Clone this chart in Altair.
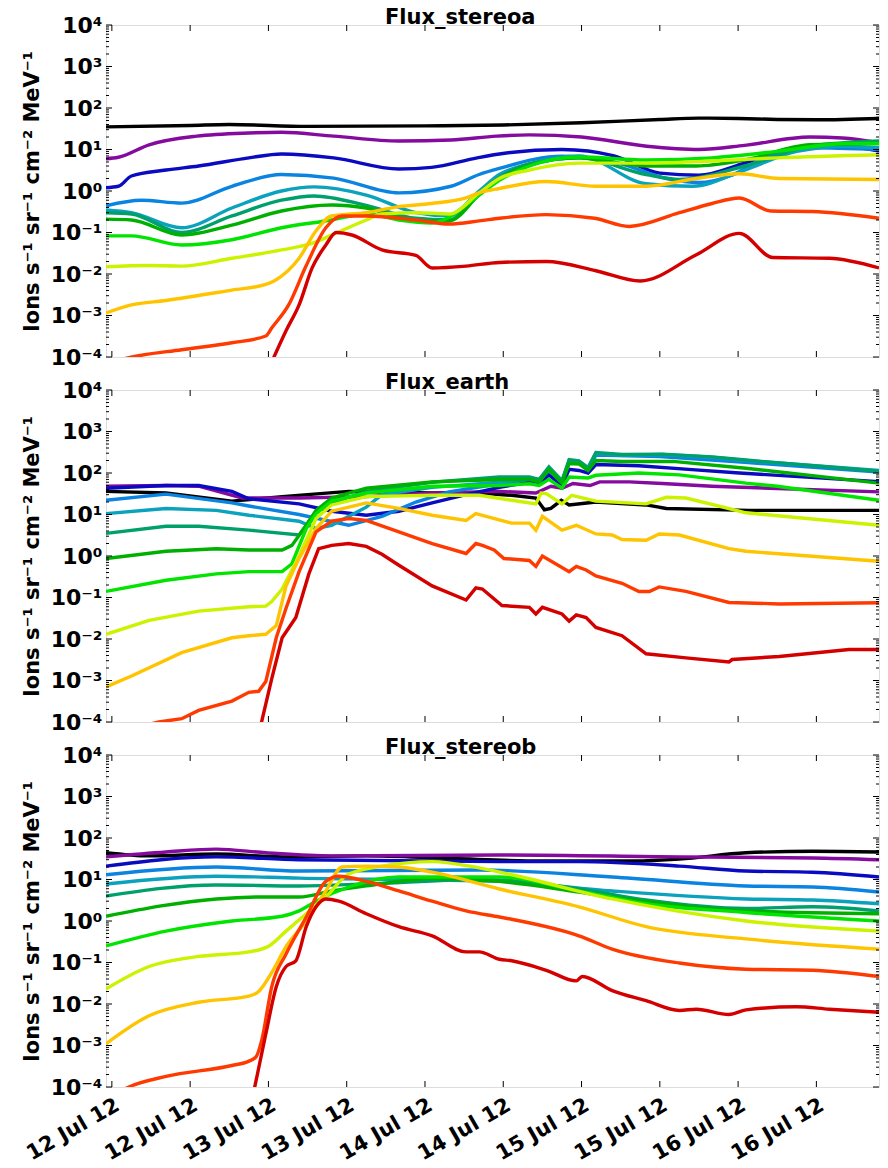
import altair as alt
import pandas as pd

# Time axis: hours after 2012-07-12 00:00
BASE = pd.Timestamp("2012-07-12T00:00:00")

COLORS = ["#000000", "#850a9e", "#0a0ac0", "#0a84e0", "#0aa2bc", "#00a06c",
          "#00b000", "#00e400", "#ccf200", "#ffc400", "#ff3a00", "#d40000"]
CHANNELS = [f"ch{i}" for i in range(len(COLORS))]

# (hour, flux) pairs per energy channel
stereoa = [
    [(-0.9, 35), (12, 38), (18, 40), (30, 36), (48, 37), (60, 39), (72, 44), (84, 53), (90, 57),
     (96, 56), (102, 53), (108, 52), (117.6, 56)],
    [(-0.9, 6), (1, 6.5), (5.7, 13), (13, 21), (21, 25), (26, 26), (34, 21), (44, 16), (52, 17),
     (59, 21), (64, 22.5), (72, 20), (82, 12), (90, 10), (97, 12.6), (107, 20), (112, 19), (117.6, 14.5)],
    [(-0.9, 1.2), (1, 1.3), (3, 2.3), (8.3, 3.2), (13.3, 4), (21, 6.3), (26, 7.8), (34, 6.3), (44, 3.4),
     (49, 3.7), (56, 6.3), (59.4, 7.8), (69, 10), (77, 7), (84, 2.7), (90, 2.4), (97, 4.7), (105, 11),
     (113, 11.5), (117.6, 9.1)],
    [(-0.9, 0.44), (4.5, 0.6), (10.7, 0.51), (18.4, 1.3), (26, 2.5), (34, 2.05), (44, 0.9), (52, 1.3),
     (56.3, 2.5), (59.4, 3.5), (69, 6.9), (78, 4.5), (85, 2.0), (90, 1.6), (95, 2.4), (100, 6.3),
     (107, 11), (117.6, 10)],
    [(-0.9, 0.35), (3, 0.3), (10.7, 0.13), (18.4, 0.39), (26, 1.0), (31, 1.26), (39, 0.8), (46.6, 0.3),
     (51.7, 0.25), (56.3, 1.0), (59.4, 2.5), (64, 4.5), (71.6, 7), (81.9, 1.5), (89, 1.3), (97, 3.2),
     (105, 9), (112.6, 12), (117.6, 11)],
    [(-0.9, 0.30), (3, 0.28), (10.7, 0.1), (18.4, 0.25), (26, 0.6), (31, 0.76), (39, 0.45), (46.6, 0.22),
     (51.7, 0.2), (56.3, 0.9), (59.4, 2.1), (64, 4.5), (71.6, 6.3), (81.9, 2.5), (87, 1.9), (97, 4),
     (107, 12), (117.6, 16)],
    [(-0.9, 0.21), (3, 0.2), (10.7, 0.087), (18.4, 0.15), (26, 0.33), (33.7, 0.46), (39, 0.39),
     (46.6, 0.19), (51.7, 0.19), (56.3, 0.8), (59.4, 1.9), (64, 4.2), (71.6, 6.3), (81.9, 4), (89.6, 4),
     (97, 5.6), (107, 13), (117.6, 14)],
    [(-0.9, 0.083), (3, 0.083), (10.7, 0.05), (18.4, 0.067), (26, 0.13), (33.7, 0.2), (39, 0.28),
     (44, 0.2), (49, 0.17), (56.3, 0.8), (59.4, 1.8), (64, 4), (71.6, 6.6), (81.9, 5.6), (92, 6.3),
     (102, 9), (112.6, 14), (117.6, 14)],
    [(-0.9, 0.015), (5.7, 0.016), (10.7, 0.0155), (18.4, 0.024), (26, 0.038), (31, 0.057), (33.7, 0.087),
     (39, 0.2), (41.4, 0.28), (46.6, 0.3), (51.7, 0.28), (56.3, 0.9), (59.4, 2.0), (64, 3.2), (71.6, 4.7),
     (81.9, 4.7), (92, 5.3), (102, 6.3), (117.6, 7.5)],
    [(-0.9, 0.00115), (3, 0.0018), (8.3, 0.0023), (18.4, 0.0041), (23.6, 0.0056), (25, 0.007),
     (28.7, 0.024), (31.3, 0.11), (33.7, 0.25), (39, 0.3), (44, 0.42), (49, 0.5), (54.3, 0.68),
     (56.3, 0.9), (59.4, 1.15), (66.6, 1.7), (74.2, 1.3), (81.9, 1.3), (89.6, 2.0), (96.2, 2.6),
     (102.3, 2.0), (117.6, 1.9)],
    [(-0.9, 7e-5), (3.1, 1e-4), (10.7, 1.5e-4), (18.4, 2.2e-4), (23.6, 3.2e-4), (24.5, 5e-4),
     (27.1, 1.8e-3), (29.8, 0.016), (32.8, 0.13), (35.3, 0.25), (39, 0.25), (46.6, 0.2), (51.7, 0.16),
     (56.3, 0.19), (59.4, 0.22), (66.6, 0.27), (74, 0.22), (79.3, 0.14), (87, 0.3), (92, 0.5),
     (96.2, 0.68), (101, 0.33), (107.4, 0.32), (117.6, 0.22)],
    [(24.0, 5e-5), (26.7, 4.3e-4), (28.7, 1.8e-3), (30.7, 0.014), (32.8, 0.05), (34.4, 0.1),
     (36.8, 0.087), (41.4, 0.038), (46.6, 0.028), (49.1, 0.014), (54.3, 0.0155), (59.4, 0.019),
     (66.6, 0.02), (74.2, 0.012), (81, 0.0068), (89.6, 0.029), (96.2, 0.095), (101.3, 0.025),
     (110, 0.024), (117.6, 0.014)],
]

earth = [
    [(-0.9, 36), (8.3, 33), (18.4, 21), (26.1, 27), (36.3, 36), (49.1, 33), (56.3, 33), (61.3, 29),
     (65, 25), (66.3, 13), (67.3, 14), (68.9, 22), (70.1, 17), (74.2, 20), (81.9, 17), (85, 14),
     (97.7, 12.6), (117.6, 12.6)],
    [(-0.9, 48), (8.3, 50), (13.3, 48), (20, 25), (28.7, 25), (39, 27), (49.1, 33), (59.4, 36), (65, 33),
     (67.3, 48), (69, 43), (70.7, 56), (73.3, 50), (74.8, 61), (79.3, 61), (84.4, 56), (92, 48),
     (117.6, 35)],
    [(-0.9, 43), (8.3, 50), (13.3, 50), (18.4, 36), (21, 24), (28.7, 18), (33.7, 12), (39, 9.6), (44, 12),
     (49.1, 19), (54.3, 30), (59.4, 45), (64, 60), (65.5, 55), (67, 90), (69, 50), (70.1, 122),
     (71.6, 115), (73, 100), (74.2, 160), (80.8, 150), (88.4, 122), (96.2, 100), (117.6, 62)],
    [(-0.9, 22), (8.3, 31), (18.4, 19), (21, 16), (28.7, 10), (36.3, 5.5), (41.4, 9), (46.6, 20),
     (51.7, 35), (59.4, 55), (64, 70), (65.5, 62), (67, 120), (69, 58), (70.1, 190), (71.6, 180),
     (73, 120), (74.2, 270), (84, 250), (97, 180), (117.6, 105)],
    [(-0.9, 10.5), (8.3, 14), (16, 12.6), (21, 9.6), (28.7, 6.9), (31.3, 4.6), (33.7, 5.5), (39, 15),
     (41.4, 30), (49.1, 45), (59.4, 60), (64, 75), (65.5, 68), (67, 130), (69, 62), (70.1, 200),
     (71.6, 190), (73, 130), (74.2, 300), (78.2, 270), (84.4, 280), (92, 240), (97.2, 200), (117.6, 115)],
    [(-0.9, 3.5), (8.3, 5.2), (13.3, 5.2), (21, 4.2), (28.7, 3.2), (29.8, 5.5), (31.3, 12), (33.7, 19),
     (39, 36), (49.1, 60), (59.4, 80), (64, 80), (65.5, 70), (67, 140), (69, 65), (70.1, 210),
     (71.6, 195), (73, 135), (74.2, 310), (78.2, 280), (84.4, 285), (92, 245), (97.2, 205), (117.6, 110)],
    [(-0.9, 0.87), (8.3, 1.3), (16, 1.5), (21, 1.4), (26.1, 1.4), (27.6, 1.8), (29.8, 5.5), (31.3, 12.6),
     (33.7, 25), (39, 43), (49.1, 61), (59.4, 70), (64, 70), (65.5, 62), (67, 120), (69, 58),
     (70.1, 170), (71.6, 165), (73, 115), (74.2, 200), (78.2, 190), (86, 190), (97.2, 130), (117.6, 57)],
    [(-0.9, 0.14), (8.3, 0.26), (16, 0.37), (21, 0.42), (26.1, 0.42), (27.6, 0.65), (29.8, 4.6),
     (31.3, 10.5), (33.7, 21), (39, 33), (49.1, 48), (59.4, 50), (64, 55), (65.5, 50), (67, 70), (69, 43),
     (70.1, 80), (73, 76), (74.2, 88), (80.8, 100), (87, 90), (97.2, 57), (102, 48), (117.6, 22)],
    [(-0.9, 0.013), (5.7, 0.028), (13.3, 0.047), (21, 0.06), (23.6, 0.062), (24.5, 0.08), (26.1, 0.16),
     (28.7, 1.0), (31.3, 8), (33.7, 17), (39, 27), (49.1, 29), (56.3, 29), (61.3, 22), (65, 18),
     (65.8, 33), (66.6, 32), (69, 18), (70.5, 29), (74.2, 21), (81.9, 18), (85, 26), (88, 25),
     (97.2, 11), (117.6, 5.5)],
    [(-0.9, 7e-4), (3.1, 1.3e-3), (10.7, 4.7e-3), (18.4, 0.0107), (21, 0.012), (23.6, 0.013),
     (25.2, 0.021), (26.7, 0.19), (28.7, 0.88), (31.3, 4.6), (33.7, 12), (39, 19), (44, 14), (49.1, 9.6),
     (54.3, 7.2), (55.8, 10.5), (56.8, 9.5), (61.3, 6.2), (64, 6.2), (65, 4.2), (66, 9), (69, 4.2),
     (71.2, 5.5), (74.2, 3.4), (76.7, 3.2), (78.2, 2.5), (81.9, 2.4), (83.9, 3.4), (87, 3.2),
     (94.6, 1.5), (97.2, 1.3), (117.6, 0.75)],
    [(-0.9, 5e-5), (7.2, 1e-4), (10.7, 1.2e-4), (13.3, 1.9e-4), (18.4, 3.2e-4), (21, 5.2e-4),
     (22.5, 5.5e-4), (23.6, 9.5e-4), (25.2, 0.0107), (26.7, 0.055), (28.7, 0.42), (31.3, 3.8),
     (33.7, 6.9), (36.3, 8), (39, 7.2), (44, 3.8), (49.1, 2.0), (54.3, 1.15), (55.8, 2.0), (56.8, 1.8),
     (58.6, 1.4), (60.1, 0.87), (64, 0.78), (65, 0.56), (66, 1.0), (70.1, 0.42), (71.2, 0.56),
     (72.7, 0.46), (74.2, 0.33), (78.2, 0.22), (80.8, 0.14), (82.4, 0.14), (83.9, 0.18), (88, 0.14),
     (94.6, 0.076), (102.3, 0.07), (117.6, 0.075)],
    [(22.5, 5e-5), (24.5, 1.1e-3), (26.1, 0.0107), (28.2, 0.033), (30.2, 0.37), (31.7, 1.5), (33.7, 1.8),
     (36.3, 2.0), (39, 1.7), (41.4, 1.1), (44, 0.6), (49.1, 0.19), (54.3, 0.087), (55.8, 0.17),
     (56.8, 0.16), (59.8, 0.064), (64, 0.058), (65, 0.04), (66, 0.058), (69, 0.04), (70.1, 0.027),
     (71.2, 0.038), (72.7, 0.033), (74.2, 0.019), (78.2, 0.012), (81.9, 4.4e-3), (88, 3.5e-3),
     (94.6, 2.8e-3), (95.1, 3.2e-3), (102.3, 3.8e-3), (113, 5.6e-3), (117.6, 5.6e-3)],
]

stereob = [
    [(-0.9, 44), (5.7, 37), (16, 41), (26.1, 35), (39, 37), (52, 32), (66, 28), (80, 28), (87, 31),
     (97.2, 44), (107.4, 48), (117.6, 46)],
    [(-0.9, 35), (8.3, 46), (16, 54), (23.6, 44), (33.7, 37), (59.4, 39), (87, 35), (107.4, 33),
     (117.6, 30)],
    [(-0.9, 21), (16, 35), (28.7, 30), (59.4, 27), (71.6, 27), (87, 21), (97.2, 16), (107.4, 15),
     (117.6, 11.5)],
    [(-0.9, 13), (16, 20), (28.7, 16), (56.3, 17), (76.7, 11.5), (97.2, 7), (107.4, 6.6), (117.6, 5)],
    [(-0.9, 7.8), (16, 12), (28.7, 10.8), (59.4, 9), (76.7, 5.3), (97.2, 3.4), (107.4, 3.2), (117.6, 2.6)],
    [(-0.9, 4), (16, 7.4), (28.7, 7), (39, 7.8), (56.3, 10), (71.6, 6), (81.9, 3.2), (97.2, 2.0),
     (107.4, 2.2), (117.6, 1.75)],
    [(-0.9, 1.3), (16, 3.4), (23.6, 3.8), (28.7, 3.8), (33.7, 5.3), (39, 7), (49.1, 10.5), (59.4, 9),
     (71.6, 5), (81.9, 2.9), (97.2, 1.75), (117.6, 1.5)],
    [(-0.9, 0.25), (8.3, 0.57), (18.4, 1.0), (26.1, 1.3), (28.7, 1.75), (31.3, 3.0), (36.3, 6.6),
     (44, 11.5), (59.4, 11.5), (71.6, 5.3), (81.9, 2.6), (97.2, 1.6), (117.6, 1.0)],
    [(-0.9, 0.023), (5.7, 0.08), (13.3, 0.14), (21, 0.18), (24.1, 0.25), (26.7, 0.57), (29.8, 1.5),
     (32.8, 3.8), (36.3, 13.5), (41.4, 21), (49.1, 27), (56.3, 19), (61.3, 13), (76.7, 3.4), (97.2, 1.0),
     (117.6, 0.57)],
    [(-0.9, 1.1e-3), (5.7, 5.2e-3), (13.3, 0.011), (21, 0.0155), (22.5, 0.02), (24.5, 0.057),
     (26.7, 0.24), (29.8, 1.0), (32.8, 5.3), (35.3, 20), (39, 21), (44, 20), (49.1, 15), (59.4, 5.9),
     (71.6, 2.2), (81.9, 0.73), (97.2, 0.37), (117.6, 0.21)],
    [(-0.9, 5e-5), (2.6, 1e-4), (8.3, 1.8e-4), (18.4, 3.3e-4), (21, 4.2e-4), (22.1, 5.3e-4),
     (23, 1.4e-3), (24.5, 0.026), (26.7, 0.16), (29.8, 1.25), (32.8, 9), (34.8, 12), (39, 9), (44, 5.3),
     (49.1, 3.0), (54.3, 1.75), (59.4, 1.25), (61.3, 1.1), (71.6, 0.44), (76.7, 0.21), (87, 0.097),
     (97.2, 0.069), (107.4, 0.065), (117.6, 0.046)],
    [(21.5, 5e-5), (23.6, 1.9e-3), (25.2, 0.026), (26.7, 0.08), (28.2, 0.11), (29.8, 0.73), (31.3, 2.2),
     (32.8, 3.4), (34.8, 3.0), (39, 1.5), (44, 0.73), (49.1, 0.44), (54.3, 0.18), (56.3, 0.18),
     (59.4, 0.12), (61.3, 0.11), (66.6, 0.065), (71.2, 0.036), (72.1, 0.046), (76.7, 0.021),
     (81.9, 0.012), (87, 7e-3), (89.6, 7.5e-3), (94.6, 5.6e-3), (97.2, 7.2e-3), (104.9, 8.6e-3),
     (110, 7.5e-3), (117.6, 6.3e-3)],
]

PANELS = [("Flux_stereoa", stereoa, "monotone"),
          ("Flux_earth", earth, "linear"),
          ("Flux_stereob", stereob, "monotone")]

# Axis tick positions
TICK_HOURS = [0, 12, 24, 36, 48, 60, 72, 84, 96, 108]
MAJOR_Y = [1e-4, 1e-3, 1e-2, 1e-1, 1e0, 1e1, 1e2, 1e3, 1e4]
MINOR_Y = [m * 10.0 ** k for k in range(-4, 4) for m in range(2, 10)]

Y_TITLE = "Ions s\u207b\u00b9 sr\u207b\u00b9 cm\u207b\u00b2 MeV\u207b\u00b9"
FONT = "DejaVu Sans"
W, H = 773, 332
TICK_LEN, MINOR_LEN = 6, 3


def stamp(h):
    return (BASE + pd.Timedelta(hours=h)).strftime("%Y-%m-%dT%H:%M:%S")


def series_frame(series):
    rows = []
    for ch, pts in zip(CHANNELS, series):
        for h, v in pts:
            rows.append({"channel": ch, "time": stamp(h), "flux": v})
    return pd.DataFrame(rows)


X_SCALE = alt.Scale(domain=[alt.DateTime(year=2012, month=7, date=11, hours=23, minutes=6),
                            alt.DateTime(year=2012, month=7, date=16, hours=21, minutes=36)])
Y_SCALE = alt.Scale(type="log", domain=[1e-4, 1e4])

x_ticks = pd.DataFrame({"time": [stamp(h) for h in TICK_HOURS]})
y_major = pd.DataFrame({"flux": MAJOR_Y})
y_minor = pd.DataFrame({"flux": MINOR_Y})

SUP = "['\u2070','\u00b9','\u00b2','\u00b3','\u2074']"
LABEL_EXPR = ("'10' + (datum.value < 0.5 ? '\u207b' : '') + "
              + SUP + "[abs(round(log(datum.value) / LN10))]")

Y_AXIS = alt.Axis(values=MAJOR_Y, labelExpr=LABEL_EXPR, ticks=False, domain=False,
                  grid=False, title=Y_TITLE, labelFont=FONT, labelFontSize=22,
                  labelFontWeight="bold", labelColor="black", labelPadding=4,
                  titleFont=FONT, titleFontSize=21, titleFontWeight="bold",
                  titleColor="black", titlePadding=8)


def x_axis(show_dates):
    return alt.Axis(values=[alt.DateTime(year=2012, month=7, date=12 + h // 24, hours=h % 24)
                            for h in TICK_HOURS],
                    format="%d %b %y", labelAngle=330, labelAlign="right",
                    labelBaseline="top", labelPadding=7, labelOverlap=False, ticks=False,
                    domain=False, grid=False, title=None, labels=show_dates, labelFont=FONT,
                    labelFontSize=21, labelFontWeight="bold", labelColor="black")


def panel(title, series, interp, show_dates):
    xa = x_axis(show_dates)

    lines = alt.Chart(series_frame(series)).mark_line(
        strokeWidth=3.4, interpolate=interp, clip=True
    ).encode(
        x=alt.X("time:T", scale=X_SCALE, axis=xa),
        y=alt.Y("flux:Q", scale=Y_SCALE, axis=Y_AXIS),
        color=alt.Color("channel:N", scale=alt.Scale(domain=CHANNELS, range=COLORS), legend=None),
        detail="channel:N",
    )

    def xrule(y0, y1):
        return alt.Chart(x_ticks).mark_rule(color="black", strokeWidth=1).encode(
            x=alt.X("time:T", scale=X_SCALE, axis=xa),
            y=alt.value(y0), y2=alt.value(y1))

    def yrule(df, x0, x1):
        return alt.Chart(df).mark_rule(color="black", strokeWidth=1).encode(
            y=alt.Y("flux:Q", scale=Y_SCALE, axis=Y_AXIS),
            x=alt.value(x0), x2=alt.value(x1))

    heading = alt.Chart(pd.DataFrame({"label": [title]})).mark_text(
        align="left", baseline="alphabetic", font=FONT, fontSize=21,
        fontWeight="bold", color="black"
    ).encode(text="label:N", x=alt.value(279), y=alt.value(-1))

    layers = [
        lines,
        xrule(0, TICK_LEN), xrule(H - TICK_LEN, H),
        yrule(y_major, 0, TICK_LEN), yrule(y_major, W - TICK_LEN, W),
        yrule(y_minor, 0, MINOR_LEN), yrule(y_minor, W - MINOR_LEN, W),
        heading,
    ]
    return alt.layer(*layers).properties(width=W, height=H)


charts = [panel(t, s, i, k == 2) for k, (t, s, i) in enumerate(PANELS)]

chart = alt.vconcat(*charts, spacing=33, bounds="flush").properties(
    padding={"left": 20, "top": 6, "right": 5, "bottom": 5}
).configure_view(stroke="#222222", strokeWidth=1.2).configure(background="white")

chart.save("out.html", embed_options={"renderer": "svg", "actions": False})
